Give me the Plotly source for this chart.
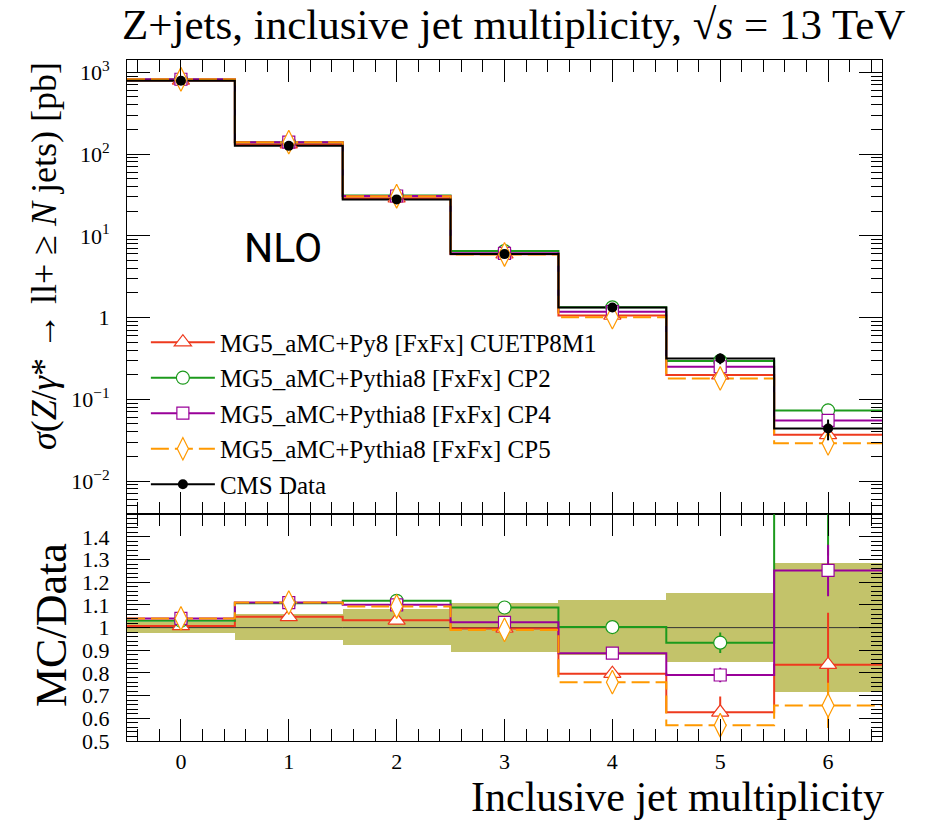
import plotly.graph_objects as go

# Inclusive jet multiplicity bins
njets = [0, 1, 2, 3, 4, 5, 6]
bin_edges = [-0.5, 0.5, 1.5, 2.5, 3.5, 4.5, 5.5, 6.5]
x_tick_labels = ["0", "1", "2", "3", "4", "5", "6"]

# CMS data: cross section [pb] and relative total uncertainty
data_xs = [790, 126, 27.9, 5.97, 1.33, 0.316, 0.044]
data_rel_unc = [0.025, 0.057, 0.079, 0.107, 0.122, 0.151, 0.284]

# MG5_aMC predictions: cross section [pb] and statistical uncertainty [pb]
cuetp8m1_xs = [796, 132.0, 28.8, 5.95, 1.06, 0.198, 0.0368]
cuetp8m1_err = [1.0, 0.4, 0.1, 0.03, 0.012, 0.022, 0.0101]
cp2_xs = [814, 139.6, 31.2, 6.50, 1.333, 0.295, 0.0730]
cp2_err = [1.0, 0.4, 0.1, 0.03, 0.010, 0.0142, 0.015]
cp4_xs = [822, 139.9, 30.7, 6.11, 1.18, 0.250, 0.0551]
cp4_err = [1.0, 0.4, 0.1, 0.03, 0.008, 0.0101, 0.0050]
cp5_xs = [822, 139.9, 30.5, 5.91, 1.01, 0.180, 0.0289]
cp5_err = [1.0, 0.4, 0.1, 0.03, 0.010, 0.008, 0.0044]

# Axis tick labels
main_tickvals = [0.01, 0.1, 1, 10, 100, 1000]
main_ticktext = ["10<sup>−2</sup>", "10<sup>−1</sup>", "1", "10<sup>1</sup>",
                 "10<sup>2</sup>", "10<sup>3</sup>"]
ratio_tickvals = [0.5, 0.6, 0.7, 0.8, 0.9, 1.0, 1.1, 1.2, 1.3, 1.4]
ratio_ticktext = ["0.5", "0.6", "0.7", "0.8", "0.9", "1", "1.1", "1.2", "1.3", "1.4"]

SERIF = "Liberation Serif"
RED = "#ee3a1e"
GREEN = "#1c9a1c"
PURPLE = "#990099"
ORANGE = "#ff9900"
BAND = "#c3c36a"

models = [
    dict(name="MG5_aMC+Py8 [FxFx] CUETP8M1", xs=cuetp8m1_xs, err=cuetp8m1_err,
         color=RED, symbol="triangle-up", size=15, dash="solid"),
    dict(name="MG5_aMC+Pythia8 [FxFx] CP2", xs=cp2_xs, err=cp2_err,
         color=GREEN, symbol="circle", size=13, dash="solid"),
    dict(name="MG5_aMC+Pythia8 [FxFx] CP4", xs=cp4_xs, err=cp4_err,
         color=PURPLE, symbol="square", size=12, dash="solid"),
    dict(name="MG5_aMC+Pythia8 [FxFx] CP5", xs=cp5_xs, err=cp5_err,
         color=ORANGE, symbol="diamond-tall", size=17, dash="18px,6px"),
]


def step(values):
    """Histogram outline over bin_edges for a line_shape='hv' trace."""
    return list(values) + [values[-1]]


fig = go.Figure()

# ---------------- main panel ----------------
for m in models:
    fig.add_trace(go.Scatter(
        x=bin_edges, y=step(m["xs"]), mode="lines", line_shape="hv",
        line=dict(color=m["color"], width=2, dash=m["dash"]),
        showlegend=False, hoverinfo="skip", xaxis="x", yaxis="y"))
fig.add_trace(go.Scatter(
    x=bin_edges, y=step(data_xs), mode="lines", line_shape="hv",
    line=dict(color="black", width=2), showlegend=False, hoverinfo="skip",
    xaxis="x", yaxis="y"))
for m in models:
    fig.add_trace(go.Scatter(
        x=njets, y=m["xs"], mode="markers",
        marker=dict(symbol=m["symbol"], size=m["size"], color="white",
                    line=dict(color=m["color"], width=1.2)),
        error_y=dict(type="data", array=m["err"], color=m["color"],
                     thickness=2, width=0),
        showlegend=False, xaxis="x", yaxis="y"))
data_err = [v * r for v, r in zip(data_xs, data_rel_unc)]
fig.add_trace(go.Scatter(
    x=njets, y=data_xs, mode="markers",
    marker=dict(symbol="circle", size=10, color="black"),
    error_y=dict(type="data", array=data_err, color="black", thickness=2, width=0),
    showlegend=False, xaxis="x", yaxis="y"))

# legend entries
for m in models:
    fig.add_trace(go.Scatter(
        x=[None], y=[None], mode="lines+markers", name=m["name"],
        line=dict(color=m["color"], width=2, dash=m["dash"]),
        marker=dict(symbol=m["symbol"], size=m["size"], color="white",
                    line=dict(color=m["color"], width=1.2)),
        xaxis="x", yaxis="y"))
fig.add_trace(go.Scatter(
    x=[None], y=[None], mode="lines+markers", name="CMS Data",
    line=dict(color="black", width=2),
    marker=dict(symbol="circle", size=10, color="black"),
    xaxis="x", yaxis="y"))

# ---------------- ratio panel ----------------
fig.add_trace(go.Bar(
    x=njets, y=[2 * r for r in data_rel_unc], base=[1 - r for r in data_rel_unc],
    width=1.0, marker=dict(color=BAND, line=dict(width=0)),
    showlegend=False, hoverinfo="skip", xaxis="x2", yaxis="y2"))
unity = [d / d for d in data_xs]
fig.add_trace(go.Scatter(
    x=bin_edges, y=step(unity), mode="lines", line_shape="hv",
    line=dict(color="#333333", width=1), showlegend=False, hoverinfo="skip",
    xaxis="x2", yaxis="y2"))
for m in models:
    ratio = [p / d for p, d in zip(m["xs"], data_xs)]
    fig.add_trace(go.Scatter(
        x=bin_edges, y=step(ratio), mode="lines", line_shape="hv",
        line=dict(color=m["color"], width=2, dash=m["dash"]),
        showlegend=False, hoverinfo="skip", xaxis="x2", yaxis="y2"))
for m in models:
    ratio = [p / d for p, d in zip(m["xs"], data_xs)]
    ratio_err = [e / d for e, d in zip(m["err"], data_xs)]
    fig.add_trace(go.Scatter(
        x=njets, y=ratio, mode="markers",
        marker=dict(symbol=m["symbol"], size=m["size"], color="white",
                    line=dict(color=m["color"], width=1.2)),
        error_y=dict(type="data", array=ratio_err, color=m["color"],
                     thickness=2, width=0),
        showlegend=False, xaxis="x2", yaxis="y2"))

# ---------------- axes ----------------
frame = dict(showline=True, linecolor="black", linewidth=1, mirror="allticks",
             ticks="inside", tickcolor="black", showgrid=False, zeroline=False)
x_common = dict(frame, range=[-0.5, 6.5], tickmode="array", tickvals=njets,
                ticktext=x_tick_labels, ticklen=22, tickwidth=1,
                minor=dict(ticks="inside", tick0=0, dtick=0.2, ticklen=12,
                           tickcolor="black", tickwidth=1, showgrid=False))
minor_log = [k * 10 ** e for e in range(-3, 4) for k in range(2, 10)]

fig.update_layout(
    width=927, height=821,
    margin=dict(l=127, r=45, t=60, b=80),
    paper_bgcolor="white", plot_bgcolor="white",
    font=dict(family=SERIF, size=22, color="black"),
    barmode="overlay", bargap=0,
    xaxis=dict(x_common, anchor="y", showticklabels=False),
    yaxis=dict(frame, type="log", domain=[0.333, 1.0], range=[-2.406, 3.1506],
               tickmode="array", tickvals=main_tickvals, ticktext=main_ticktext,
               ticklen=23, tickwidth=1, ticklabelstandoff=12,
               tickfont=dict(family=SERIF, size=22),
               minor=dict(ticks="inside", tickmode="array", tickvals=minor_log,
                          ticklen=11, tickcolor="black", tickwidth=1,
                          showgrid=False)),
    xaxis2=dict(x_common, anchor="y2", showticklabels=True, ticklabelstandoff=1,
                tickfont=dict(family=SERIF, size=22)),
    yaxis2=dict(frame, domain=[0.0, 0.333], range=[0.5, 1.5],
                tickmode="array", tickvals=ratio_tickvals, ticktext=ratio_ticktext,
                ticklen=23, tickwidth=1, ticklabelstandoff=12,
                tickfont=dict(family=SERIF, size=22),
                minor=dict(ticks="inside", tick0=0.5, dtick=0.02, ticklen=11,
                           tickcolor="black", tickwidth=1, showgrid=False)),
    legend=dict(x=0.025, y=0.619, xanchor="left", yanchor="top",
                bgcolor="rgba(0,0,0,0)", itemwidth=64,
                font=dict(family=SERIF, size=25, color="black"),
                itemclick=False, itemdoubleclick=False),
    showlegend=True,
)

# ---------------- text ----------------
fig.add_annotation(
    text="Z+jets, inclusive jet multiplicity, √<i>s</i> = 13 TeV",
    xref="paper", yref="paper", x=(513 - 127) / 755, y=1 + (60 - 24) / 681,
    xanchor="center", yanchor="middle", showarrow=False,
    font=dict(family=SERIF, size=43, color="black"))
fig.add_annotation(
    text="NLO", xref="paper", yref="paper", x=(283 - 127) / 755, y=(741 - 248) / 681,
    xanchor="center", yanchor="middle", showarrow=False,
    font=dict(family="Roboto", size=41, color="black"))
fig.add_annotation(
    text="<i>σ</i>(<i>Z</i>/<i>γ</i>* → ll+ ≥ <i>N</i> jets) [pb]",
    xref="paper", yref="paper", x=(44 - 127) / 755, y=(741 - 256) / 681,
    xanchor="center", yanchor="middle", textangle=-90, showarrow=False,
    font=dict(family=SERIF, size=36, color="black"))
fig.add_annotation(
    text="MC/Data", xref="paper", yref="paper", x=(51 - 127) / 755, y=(741 - 625) / 681,
    xanchor="center", yanchor="middle", textangle=-90, showarrow=False,
    font=dict(family=SERIF, size=44, color="black"))
fig.add_annotation(
    text="Inclusive jet multiplicity", xref="paper", yref="paper",
    x=1.0, y=(741 - 797) / 681, xanchor="right", yanchor="middle", showarrow=False,
    xshift=4, font=dict(family=SERIF, size=42, color="black"))

fig.write_html("out.html")
